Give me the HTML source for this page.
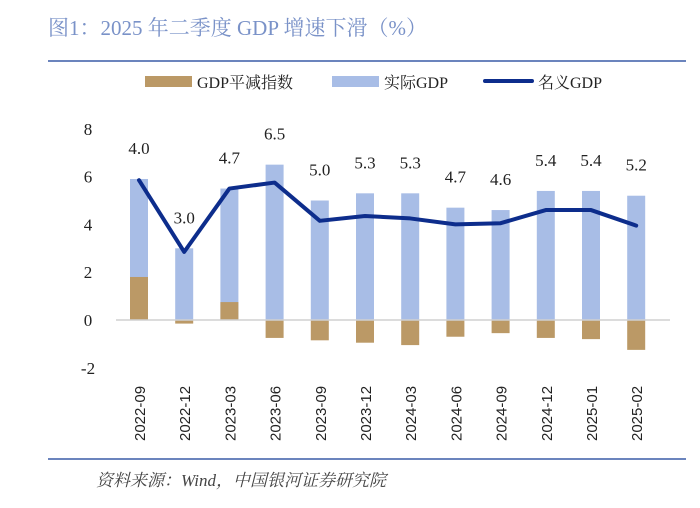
<!DOCTYPE html>
<html><head><meta charset="utf-8"><style>
html,body{margin:0;padding:0;background:#fff;width:700px;height:508px;overflow:hidden}
</style></head><body>
<svg id="c" width="700" height="508" xmlns="http://www.w3.org/2000/svg">
<text x="48" y="35" font-family="Liberation Serif, Noto Serif CJK SC, serif" font-size="21" fill="#7a92c8">图1：2025 年二季度 GDP 增速下滑（%）</text>
<rect x="48" y="60" width="638" height="2" fill="#6b84bd"/>
<g font-family="Liberation Serif, Noto Serif CJK SC, serif" font-size="16" fill="#222">
<g><rect x="145" y="76" width="47" height="11" fill="#bb9966"/><text x="197" y="88">GDP平减指数</text></g>
<g><rect x="332" y="76" width="47" height="11" fill="#a8bde6"/><text x="384" y="88">实际GDP</text></g>
<g><rect x="483" y="79" width="51" height="4" rx="2" fill="#0d2d8c"/><text x="538" y="88">名义GDP</text></g>
</g>
<g id="plot"></g>
<rect x="48" y="458" width="638" height="2" fill="#6b84bd"/>
<text x="96" y="486" font-family="Liberation Serif, Noto Serif CJK SC, serif" font-size="17" font-style="italic" fill="#444">资料来源：Wind，中国银河证券研究院</text>
</svg>
<script>
const categories=["2022-09","2022-12","2023-03","2023-06","2023-09","2023-12","2024-03","2024-06","2024-09","2024-12","2025-01","2025-02"];
const realGdp=[5.9,3.0,5.5,6.5,5.0,5.3,5.3,4.7,4.6,5.4,5.4,5.2];
const deflator=[1.8,-0.15,0.75,-0.75,-0.85,-0.95,-1.05,-0.7,-0.55,-0.75,-0.8,-1.25];
const nominalGdp=[5.85,2.85,5.5,5.75,4.15,4.35,4.25,4.0,4.05,4.6,4.6,3.95];
const labelValues=["4.0","3.0","4.7","6.5","5.0","5.3","5.3","4.7","4.6","5.4","5.4","5.2"];
const yTicks=[8,6,4,2,0,-2];
const NS="http://www.w3.org/2000/svg";
const plot=document.getElementById('plot');
const y0=320, unit=23.9;
function y(v){return y0-v*unit;}
function x(i){return 139+i*45.2;}
function mk(t,a,txt){const e=document.createElementNS(NS,t);for(const k in a)e.setAttribute(k,a[k]);if(txt!==undefined)e.textContent=txt;plot.appendChild(e);return e;}
yTicks.forEach(v=>{const t=mk('text',{x:88,y:y(v)+6,'text-anchor':'middle','font-family':'Liberation Serif, serif','font-size':'17',fill:'#222'},String(v));

});
categories.forEach((c,i)=>{
const r=mk('rect',{x:x(i)-9,y:Math.min(y(realGdp[i]),y0),width:18,height:Math.abs(y(realGdp[i])-y0),fill:'#a8bde6'});


const d=mk('rect',{x:x(i)-9,y:Math.min(y(deflator[i]),y0),width:18,height:Math.abs(y(deflator[i])-y0),fill:'#bb9966'});


const t=mk('text',{transform:`translate(${x(i)+6},441) rotate(-90)`,'font-family':'Liberation Sans, sans-serif','font-size':'15',fill:'#222'},c);


const l=mk('text',{x:x(i),y:y(realGdp[i])-25,'text-anchor':'middle','font-family':'Liberation Serif, serif','font-size':'17',fill:'#222'},labelValues[i]);


});
const ax=mk('line',{x1:116,x2:670,y1:y0,y2:y0,stroke:'#d0d0d0','stroke-width':1.5});


const p=mk('polyline',{points:nominalGdp.map((v,i)=>x(i)+','+y(v)).join(' '),fill:'none',stroke:'#0d2d8c','stroke-width':4,'stroke-linejoin':'round','stroke-linecap':'round'});


</script>
</body></html>
